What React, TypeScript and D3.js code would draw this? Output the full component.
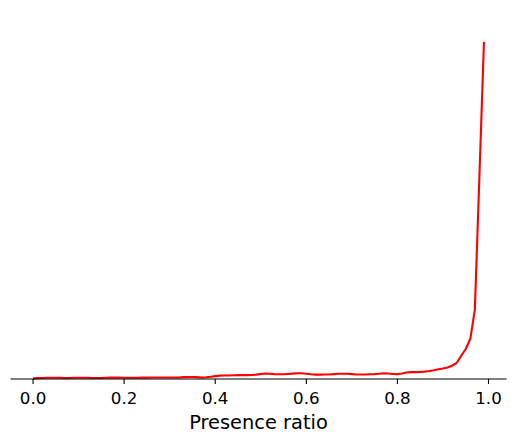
import React from "react";
import * as d3 from "d3";

// Presence ratio grid (0.00 .. 0.99)
const xValues: number[] = Array.from({ length: 100 }, (_, i) => i / 100);

// Density values
const density: number[] = [
  0.04, 0.05, 0.06, 0.07, 0.07, 0.07, 0.07, 0.06, 0.06, 0.07,
  0.07, 0.07, 0.07, 0.06, 0.06, 0.06, 0.07, 0.08, 0.08, 0.08,
  0.07, 0.07, 0.07, 0.07, 0.08, 0.08, 0.09, 0.09, 0.09, 0.09,
  0.09, 0.09, 0.09, 0.11, 0.12, 0.12, 0.11, 0.09, 0.10, 0.13,
  0.17, 0.20, 0.21, 0.21, 0.22, 0.23, 0.23, 0.23, 0.24, 0.26,
  0.30, 0.32, 0.31, 0.29, 0.28, 0.28, 0.30, 0.32, 0.34, 0.34,
  0.31, 0.28, 0.26, 0.26, 0.27, 0.27, 0.29, 0.31, 0.31, 0.31,
  0.29, 0.27, 0.27, 0.27, 0.28, 0.29, 0.31, 0.34, 0.33, 0.30,
  0.29, 0.33, 0.39, 0.41, 0.41, 0.42, 0.44, 0.47, 0.52, 0.58,
  0.62, 0.68, 0.79, 0.95, 1.37, 1.78, 2.37, 4.10, 12.0, 20.0,
];

const xTicks: number[] = [0, 0.2, 0.4, 0.6, 0.8, 1.0];
const xLabel = "Presence ratio";

export default function App() {
  const width = 515;
  const height = 442;
  const left = 10.5;
  const right = 506.5;
  const bottom = 379;
  const top = 25;

  const xMin = d3.min(xValues)!;
  const xMax = d3.max(xValues)!;
  const xr = xMax - xMin;
  const x = d3
    .scaleLinear()
    .domain([xMin - 0.05 * xr, xMax + 0.05 * xr])
    .range([left, right]);
  const yMax = d3.max(density)!;
  const y = d3.scaleLinear().domain([0, yMax * 1.05]).range([bottom, top]);

  const line = d3
    .line<number>()
    .x((_, i) => x(xValues[i]))
    .y((d) => y(d));

  const font = "'DejaVu Sans', sans-serif";

  return (
    <svg
      width={width}
      height={height}
      style={{ position: "absolute", left: 0, top: 0 }}
    >
      <rect width={width} height={height} fill="white" />
      <path
        d={line(density) || ""}
        fill="none"
        stroke="#ff0000"
        strokeWidth={2.1}
        strokeLinejoin="round"
        strokeLinecap="butt"
      />
      <line
        x1={left}
        x2={right}
        y1={bottom}
        y2={bottom}
        stroke="black"
        strokeWidth={1.1}
      />
      {xTicks.map((t) => (
        <g key={t}>
          <line
            x1={x(t)}
            x2={x(t)}
            y1={bottom}
            y2={bottom + 4.9}
            stroke="black"
            strokeWidth={1.1}
          />
          <text
            x={x(t)}
            y={404.3}
            textAnchor="middle"
            fontFamily={font}
            fontSize={16.7}
            fill="black"
          >
            {t.toFixed(1)}
          </text>
        </g>
      ))}
      <text
        x={(left + right) / 2}
        y={429.2}
        textAnchor="middle"
        fontFamily={font}
        fontSize={19.4}
        fill="black"
      >
        {xLabel}
      </text>
    </svg>
  );
}
